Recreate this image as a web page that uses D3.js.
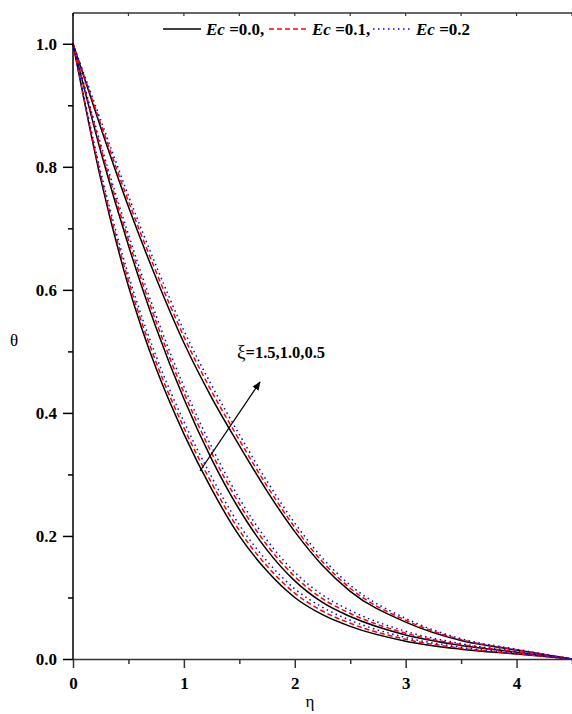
<!DOCTYPE html>
<html><head><meta charset="utf-8">
<script src="https://cdn.jsdelivr.net/npm/d3@7"></script>
<style>body{margin:0;background:#fff}svg{display:block}</style>
</head><body>
<svg id="c" width="572" height="714"></svg>
<script>
// eta grid
const eta = [0, 0.25, 0.5, 0.75, 1, 1.25, 1.5, 1.75, 2, 2.25, 2.5, 3, 3.5, 4, 4.5];
// outer curves (xi = 0.5)
const outerEc0 = [1, 0.864, 0.735, 0.619, 0.514, 0.425, 0.347, 0.273, 0.207, 0.152, 0.110, 0.060, 0.030, 0.0145, 0];
const outerEc1 = [1, 0.870, 0.744, 0.629, 0.524, 0.435, 0.356, 0.281, 0.214, 0.158, 0.115, 0.063, 0.0315, 0.0152, 0];
const outerEc2 = [1, 0.876, 0.753, 0.639, 0.534, 0.445, 0.365, 0.289, 0.221, 0.164, 0.120, 0.066, 0.033, 0.0159, 0];
// middle curves (xi = 1.0)
const midEc0 = [1, 0.825, 0.672, 0.538, 0.423, 0.325, 0.243, 0.177, 0.127, 0.092, 0.069, 0.039, 0.022, 0.011, 0];
const midEc1 = [1, 0.831, 0.681, 0.548, 0.433, 0.335, 0.252, 0.185, 0.134, 0.098, 0.074, 0.042, 0.0235, 0.0117, 0];
const midEc2 = [1, 0.837, 0.690, 0.558, 0.443, 0.345, 0.261, 0.193, 0.141, 0.104, 0.079, 0.045, 0.025, 0.0124, 0];
// inner curves (xi = 1.5)
const innerEc0 = [1, 0.780, 0.606, 0.472, 0.366, 0.276, 0.200, 0.143, 0.100, 0.072, 0.053, 0.029, 0.016, 0.008, 0];
const innerEc1 = [1, 0.786, 0.615, 0.482, 0.376, 0.286, 0.209, 0.151, 0.107, 0.078, 0.058, 0.032, 0.0175, 0.0087, 0];
const innerEc2 = [1, 0.792, 0.624, 0.492, 0.386, 0.296, 0.218, 0.159, 0.114, 0.084, 0.063, 0.035, 0.019, 0.0094, 0];

const xTicks = [0, 1, 2, 3, 4];
const xMinor = [0.5, 1.5, 2.5, 3.5, 4.5];
const yTicks = [0, 0.2, 0.4, 0.6, 0.8, 1.0];
const yMinor = [0.1, 0.3, 0.5, 0.7, 0.9];
const legendLabels = ["=0.0,", "=0.1,", "=0.2"];
const annotation = "=1.5,1.0,0.5";

const series = [
  {vals: outerEc0, ec: 0}, {vals: midEc0, ec: 0}, {vals: innerEc0, ec: 0},
  {vals: outerEc1, ec: 1}, {vals: midEc1, ec: 1}, {vals: innerEc1, ec: 1},
  {vals: outerEc2, ec: 2}, {vals: midEc2, ec: 2}, {vals: innerEc2, ec: 2}
];
const styles = [
  {stroke: "#000", dash: null},
  {stroke: "#ff0000", dash: "5,3"},
  {stroke: "#0000ff", dash: "1.5,3.5"}
];

const svg = d3.select("#c");
const L = 73, T = 13, R = 572, B = 659;
const x = d3.scaleLinear().domain([0, 4.5]).range([L, R]);
const y = d3.scaleLinear().domain([0, 1.05]).range([B, T]);
const serif = "'Liberation Serif','Times New Roman',serif";

// curves
const line = d3.line().x(d => x(d[0])).y(d => y(d[1])).curve(d3.curveMonotoneX);
svg.append("g").selectAll("path").data(series).join("path")
  .attr("d", s => line(eta.map((e, i) => [e, s.vals[i]])))
  .attr("fill", "none")
  .attr("stroke", s => styles[s.ec].stroke)
  .attr("stroke-width", 1.5)
  .attr("stroke-dasharray", s => styles[s.ec].dash);

// top frame line
svg.append("line").attr("x1", L).attr("x2", R).attr("y1", T).attr("y2", T)
  .attr("stroke", "#333").attr("stroke-width", 1.5);
svg.append("g").selectAll("line").data(xTicks.concat(xMinor)).join("line")
  .attr("x1", d => x(d)).attr("x2", d => x(d)).attr("y1", T).attr("y2", T + 3)
  .attr("stroke", "#333").attr("stroke-width", 1.2);

// x axis
const gx = svg.append("g").attr("transform", `translate(0,${B})`);
gx.call(d3.axisBottom(x).tickValues(xMinor).tickSize(5).tickFormat(""));
gx.call(g => g.select(".domain").remove());
const gx2 = svg.append("g").attr("transform", `translate(0,${B})`)
  .call(d3.axisBottom(x).tickValues(xTicks).tickSize(9).tickSizeOuter(0).tickFormat(d3.format("d")));
[gx, gx2].forEach(g => {
  g.selectAll("line").attr("stroke", "#333").attr("stroke-width", 1.5);
  g.select(".domain").attr("stroke", "#333").attr("stroke-width", 1.5);
});
gx2.selectAll("text").attr("font-family", serif).attr("font-weight", "bold")
  .attr("font-size", 17).attr("fill", "#000").attr("dy", "0.71em").attr("y", 18);

// y axis
const gy = svg.append("g").attr("transform", `translate(${L},0)`);
gy.call(d3.axisLeft(y).tickValues(yMinor).tickSize(5).tickFormat(""));
gy.call(g => g.select(".domain").remove());
const gy2 = svg.append("g").attr("transform", `translate(${L},0)`)
  .call(d3.axisLeft(y).tickValues(yTicks).tickSize(10).tickSizeOuter(0).tickFormat(d3.format(".1f")));
gy2.select(".domain").attr("d", `M0,${B}V${T}`);
[gy, gy2].forEach(g => {
  g.selectAll("line").attr("stroke", "#000").attr("stroke-width", 1.5);
  g.select(".domain").attr("stroke", "#000").attr("stroke-width", 1.5);
});
gy2.selectAll("text").attr("font-family", serif).attr("font-weight", "bold")
  .attr("font-size", 17).attr("fill", "#000").attr("x", -16);

// axis titles
svg.append("text").attr("x", 14).attr("y", 346).attr("text-anchor", "middle")
  .attr("font-family", serif).attr("font-size", 17).text("θ");
svg.append("text").attr("x", 310).attr("y", 707).attr("text-anchor", "middle")
  .attr("font-family", serif).attr("font-size", 17).text("η");

// legend
const legX = [163, 269, 373];
const leg = svg.append("g");
legendLabels.forEach((lab, i) => {
  leg.append("line").attr("x1", legX[i]).attr("x2", legX[i] + 38)
    .attr("y1", 29).attr("y2", 29)
    .attr("stroke", styles[i].stroke).attr("stroke-width", 1.5)
    .attr("stroke-dasharray", styles[i].dash);
  const t = leg.append("text").attr("x", legX[i] + 43).attr("y", 35)
    .attr("font-family", serif).attr("font-weight", "bold").attr("font-size", 17);
  t.append("tspan").attr("font-style", "italic").text("Ec");
  t.append("tspan").text(" " + lab);
});

// annotation
const ann = svg.append("text").attr("x", 237).attr("y", 358)
  .attr("font-family", serif).attr("font-size", 16.5);
ann.append("tspan").attr("font-size", 19).text("ξ");
ann.append("tspan").attr("font-weight", "bold").text(annotation);

// arrow
svg.append("defs").append("marker").attr("id", "ah")
  .attr("viewBox", "0 0 10 10").attr("refX", 9).attr("refY", 5)
  .attr("markerWidth", 9).attr("markerHeight", 9).attr("markerUnits", "userSpaceOnUse")
  .attr("orient", "auto")
  .append("path").attr("d", "M0,1 L10,5 L0,9 Z").attr("fill", "#000");
svg.append("line").attr("x1", 200).attr("y1", 471).attr("x2", 260).attr("y2", 382)
  .attr("stroke", "#000").attr("stroke-width", 1.3).attr("marker-end", "url(#ah)");
</script>
</body></html>
